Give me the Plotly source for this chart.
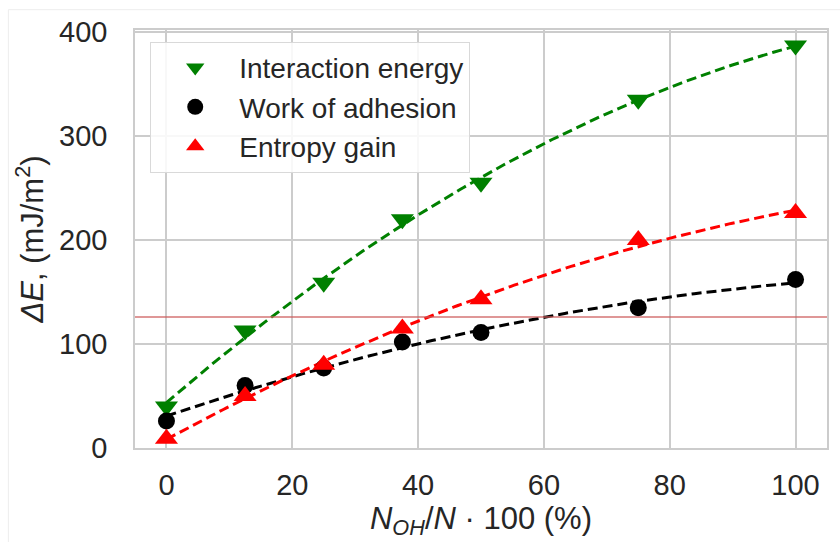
import numpy as np
import plotly.graph_objects as go

# ---- data ----
x_oh = [0, 12.5, 25, 37.5, 50, 75, 100]
interaction_energy = [40, 113, 159, 220, 255, 335, 387]
work_of_adhesion = [26, 60, 77, 102, 111, 135, 162]
entropy_gain = [9, 50, 80, 115, 143, 200, 226]
ref_level = 126
x_ticks = [0, 20, 40, 60, 80, 100]
y_ticks = [0, 100, 200, 300, 400]

FONT = "Liberation Sans, Arial, sans-serif"
TXT = "#262626"

series = [
    ("Interaction energy", interaction_energy, "green", "triangle-down"),
    ("Work of adhesion", work_of_adhesion, "black", "circle"),
    ("Entropy gain", entropy_gain, "red", "triangle-up"),
]

fig = go.Figure()
xf = np.linspace(min(x_oh), max(x_oh), 200)
for name, ys, col, sym in series:
    coef = np.polyfit(x_oh, ys, 2)
    fig.add_trace(go.Scatter(x=xf, y=np.polyval(coef, xf), mode="lines",
                             line=dict(color=col, width=3, dash="10px,5px"),
                             showlegend=False, hoverinfo="skip"))
for i, (name, ys, col, sym) in enumerate(series):
    fig.add_trace(go.Scatter(x=x_oh, y=ys, mode="markers", name=name,
                             legendgroup=f"g{i}",
                             marker=dict(color=col, symbol=sym,
                                         size=17 if sym == "circle" else 20,
                                         line=dict(width=0))))

fig.add_hline(y=ref_level, line=dict(color="rgba(205,92,92,0.85)", width=1.5))

# faint figure border (top and left)
fig.add_shape(type="line", xref="paper", yref="paper", x0=-0.183, x1=1.02,
              y0=1.0486, y1=1.0486, line=dict(color="#ededed", width=1))
fig.add_shape(type="line", xref="paper", yref="paper", x0=-0.183, x1=-0.183,
              y0=-0.3, y1=1.0486, line=dict(color="#ededed", width=1))

axis_common = dict(showgrid=True, gridcolor="#cccccc", gridwidth=1.6,
                   showline=True, linecolor="#cccccc", linewidth=1.6, mirror=True,
                   zeroline=False, ticks="",
                   tickfont=dict(family=FONT, size=29, color=TXT))

fig.update_xaxes(range=[-5, 105], tickvals=x_ticks, ticklabelstandoff=10,
                 title=dict(text="<i>N<sub>OH</sub></i>/<i>N</i> · 100 (%)",
                            font=dict(family=FONT, size=31, color=TXT), standoff=6),
                 **axis_common)
fig.update_yaxes(range=[0, 402], tickvals=y_ticks, ticklabelstandoff=20,
                 title=dict(text="<i>ΔE</i>, (mJ/m<sup>2</sup>)",
                            font=dict(family=FONT, size=31, color=TXT), standoff=6),
                 **axis_common)

fig.update_layout(
    width=840, height=542,
    margin=dict(l=135, r=11, t=30, b=94),
    plot_bgcolor="white", paper_bgcolor="white",
    font=dict(family=FONT, color=TXT),
    legend=dict(x=0.022, y=0.972, xanchor="left", yanchor="top",
                bgcolor="rgba(255,255,255,0.85)", bordercolor="#d9d9d9", borderwidth=1,
                font=dict(family=FONT, size=28, color=TXT),
                itemwidth=78, traceorder="grouped", tracegroupgap=0),
)

fig.write_html("out.html")
